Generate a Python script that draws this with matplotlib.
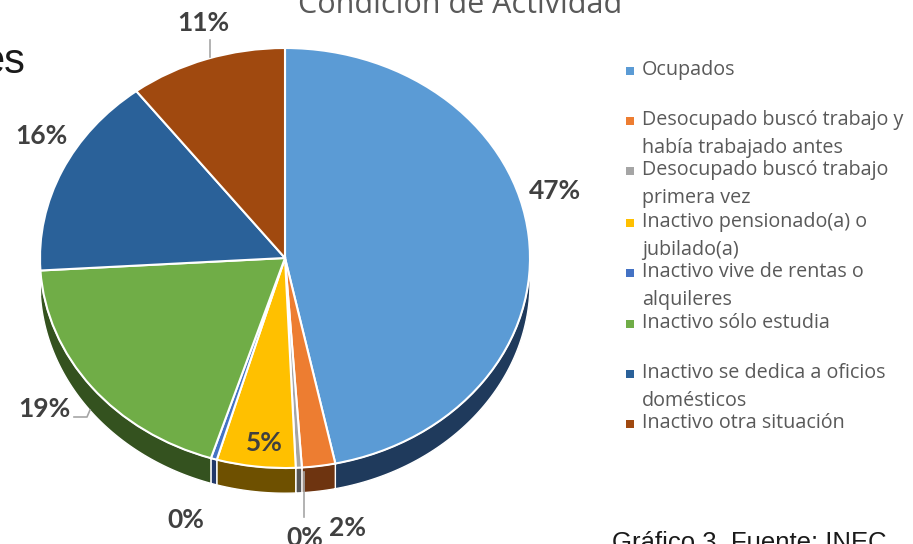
import matplotlib.pyplot as plt
import numpy as np

# datos de la figura (Condición de Actividad)
categorias = ["Ocupados",
              "Desocupado buscó trabajo y\nhabía trabajado antes",
              "Desocupado buscó trabajo\nprimera vez",
              "Inactivo pensionado(a) o\njubilado(a)",
              "Inactivo vive de rentas o\nalquileres",
              "Inactivo sólo estudia",
              "Inactivo se dedica a oficios\ndomésticos",
              "Inactivo otra situación"]
valores = [46.8, 2.2, 0.4, 5.2, 0.4, 19.2, 15.6, 10.4]
etiquetas = ["47%", "2%", "0%", "5%", "0%", "19%", "16%", "11%"]
colores = ["#5B9BD5", "#ED7D31", "#A5A5A5", "#FFC000", "#4472C4", "#70AD47", "#2A6199", "#A0490F"]
colores_lado = ["#1F3A5C", "#6E3410", "#555555", "#6E5000", "#22386A", "#34521F", "#163350", "#5A2808"]

W, H = 913, 544
fig = plt.figure(figsize=(W / 100, H / 100), dpi=100)

# pastel: centro (285, 258) px, radios 245 x 210 px
ax = fig.add_axes([40 / W, (H - 468) / H, 490 / W, 420 / H])
wedges, _ = ax.pie(valores, colors=colores, startangle=90, counterclock=False,
                   wedgeprops=dict(edgecolor="white", linewidth=1.5))
ax.set_aspect("auto")
ax.set_xlim(-1, 1)
ax.set_ylim(-1, 1)
ax.axis("off")

prof = 0.12
for w, c in zip(wedges, colores_lado):
    lo = max(w.theta1, -180)
    hi = min(w.theta2, 0)
    if hi <= lo:
        continue
    t = np.radians(np.linspace(lo, hi, 80))
    x = np.cos(t)
    y = np.sin(t)
    xs = np.concatenate([x, x[::-1]])
    ys = np.concatenate([y, y[::-1] - prof])
    ax.fill(xs, ys, facecolor=c, edgecolor="white", linewidth=1.0, zorder=0.5, clip_on=False)
for w in wedges:
    w.set_zorder(2)
    w.set_clip_on(False)

# capa en pixeles para textos y leyenda
ov = fig.add_axes([0, 0, 1, 1])
ov.set_xlim(0, W)
ov.set_ylim(H, 0)
ov.axis("off")

pos_etiquetas = [(555, 191), (347, 528), (305, 538), (264, 443),
                 (186, 520), (44, 409), (41, 136), (203, 23)]
for (x, y), e in zip(pos_etiquetas, etiquetas):
    ov.text(x, y, e, ha="center", va="center", fontsize=19, fontweight="bold",
            family="Lato", color="#404040")

gris = "#A6A6A6"
ov.plot([210, 210], [40, 57], color=gris, lw=1.2)
ov.plot([74, 87, 90], [417, 417, 410], color=gris, lw=1.2)
ov.plot([304, 304], [472, 517], color=gris, lw=1.2)

# leyenda
y_ley = [70, 120, 170, 222, 272, 323, 373, 423]
for y0, cat, c in zip(y_ley, categorias, colores):
    ov.scatter([630], [y0 + 1], marker="s", s=30, color=c, linewidths=0)
    for j, linea in enumerate(cat.split("\n")):
        ov.text(642, y0 + j * 28.5, linea, ha="left", va="center", fontsize=14.2,
                family="Open Sans", color="#595959")

# titulo y textos recortados
ov.text(460, 13, "Condición de Actividad", ha="center", va="baseline", fontsize=22,
        family="Open Sans", color="#595959")
ov.text(25, 73, "es", ha="right", va="baseline", fontsize=30,
        family="Liberation Sans", color="#1A1A1A")
ov.text(612, 550, "Gráfico 3. Fuente: INEC", ha="left", va="baseline", fontsize=18.5,
        family="Liberation Sans", color="#1A1A1A")

fig.savefig("out.png", dpi=100, facecolor="white")
